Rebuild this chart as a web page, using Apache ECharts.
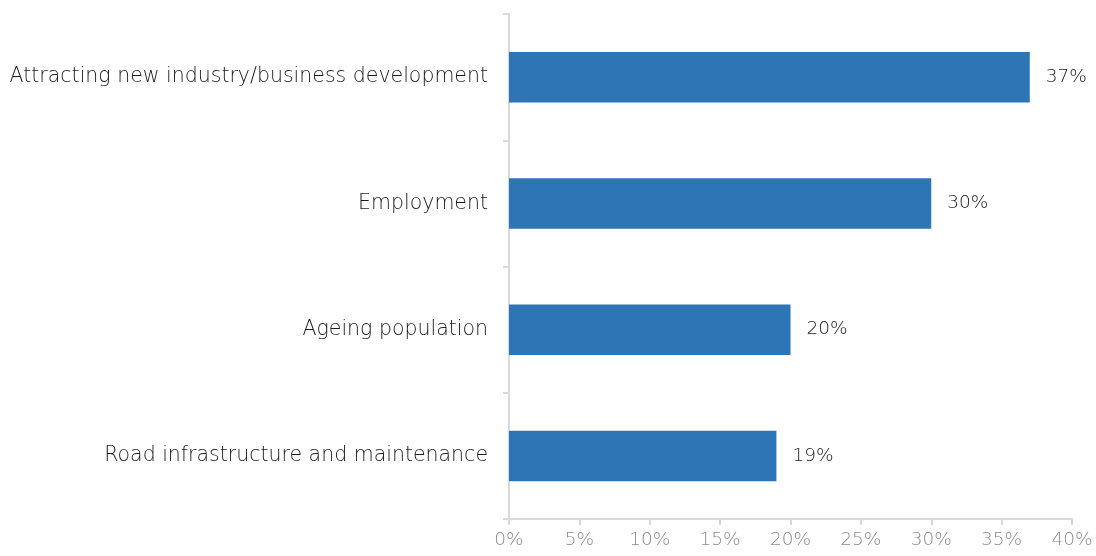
<!DOCTYPE html>
<html><head><meta charset="utf-8">
<script src="https://cdn.jsdelivr.net/npm/echarts@6/dist/echarts.min.js"></script>
<style>html,body{margin:0;padding:0;background:#fff}#c{width:1096px;height:556px}</style>
</head><body><div id="c"></div>
<script>
const categories = ["Road infrastructure and maintenance","Ageing population","Employment","Attracting new industry/business development"];
const values = [19, 20, 30, 37];
const xTicks = [0,5,10,15,20,25,30,35,40];
const FONT = '"DejaVu Sans", sans-serif';
const chart = echarts.init(document.getElementById('c'));
chart.setOption({
  animation:false,
  grid:{left:509,right:24,top:14,bottom:37,containLabel:false},
  xAxis:{type:'value',min:0,max:40,interval:5,
    axisLine:{show:true,lineStyle:{color:'#d9d9d9',width:2}},
    axisTick:{show:true,length:6,lineStyle:{color:'#d9d9d9',width:2}},
    splitLine:{show:false},
    axisLabel:{formatter:v=>v+'%',color:'#8c8c8c',fontSize:18.5,fontFamily:FONT,fontWeight:300,margin:12}},
  yAxis:{type:'category',data:categories,
    axisLine:{show:true,lineStyle:{color:'#d9d9d9',width:2}},
    axisTick:{show:true,length:6,alignWithLabel:false,lineStyle:{color:'#d9d9d9',width:2}},
    axisLabel:{color:'#1a1a1a',fontSize:20.5,fontFamily:FONT,fontWeight:300,margin:21}},
  series:[{type:'bar',data:values,barCategoryGap:'60%',
    itemStyle:{color:'#2e75b6'},
    label:{show:true,position:'right',distance:16,formatter:p=>p.value+'%',color:'#1a1a1a',fontSize:18.5,fontFamily:FONT,fontWeight:300}}]
});
</script></body></html>
